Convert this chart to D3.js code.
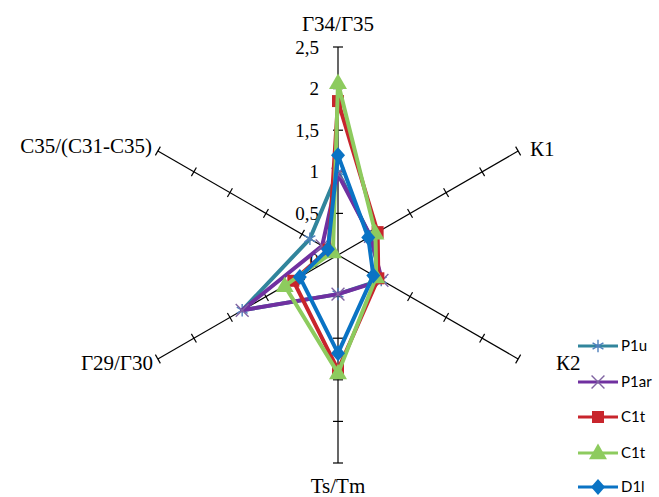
<!DOCTYPE html>
<html><head><meta charset="utf-8">
<script src="https://cdn.jsdelivr.net/npm/d3@7"></script>
<style>body{margin:0;background:#fff}svg{display:block}</style>
</head><body>
<svg id="c" width="659" height="497"></svg>
<script>
const axes = ["Г34/Г35", "К1", "К2", "Ts/Tm", "Г29/Г30", "C35/(C31-C35)"];
const tickValues = [0, 0.5, 1, 1.5, 2, 2.5];
const tickLabels = ["0", "0,5", "1", "1,5", "2", "2,5"];
const seriesNames = ["P1u", "P1ar", "C1t", "C1t", "D1l"];
const P1u  = [1.0, 0.45, 0.6, 0.47, 1.33, 0.39];
const P1ar = [0.97, 0.45, 0.61, 0.47, 1.33, 0.22];
const C1tA = [1.85, 0.55, 0.56, 1.38, 0.62, 0.13];
const C1tB = [2.07, 0.52, 0.53, 1.42, 0.74, 0.07];
const D1l  = [1.2, 0.42, 0.49, 1.18, 0.53, 0.14];

const svg = d3.select("#c");
const cx = 338, cy = 255;
const r = d3.scaleLinear().domain([0, 2.5]).range([0, 208]);
const ang = i => Math.PI/2 - i * Math.PI/3;
const pt = (i, v) => [cx + Math.cos(ang(i)) * r(v), cy - Math.sin(ang(i)) * r(v)];
const serif = "Liberation Serif, Times New Roman, serif";

// axes
const ag = svg.append("g");
axes.forEach((a, i) => {
  const e = pt(i, 2.5);
  ag.append("line").attr("x1", cx).attr("y1", cy).attr("x2", e[0]).attr("y2", e[1])
    .attr("stroke", "#000").attr("stroke-width", 1.2);
  const px = Math.cos(ang(i) + Math.PI/2), py = -Math.sin(ang(i) + Math.PI/2);
  tickValues.slice(1).forEach(t => {
    const p = pt(i, t);
    ag.append("line").attr("x1", p[0] - px*5).attr("y1", p[1] - py*5)
      .attr("x2", p[0] + px*5).attr("y2", p[1] + py*5)
      .attr("stroke", "#000").attr("stroke-width", 1.2);
  });
});
// tick labels on top axis
tickValues.forEach((t, k) => {
  const p = pt(0, t);
  svg.append("text").attr("x", cx - 19).attr("y", p[1] + (k === 0 ? 5 : 0)).attr("dy", "0.35em")
    .attr("text-anchor", "end").attr("font-family", serif)
    .attr("font-size", 19).text(tickLabels[k]);
});
// axis labels
const labelPos = [
  {x: 338, y: 24, a: "middle"},
  {x: 530, y: 149, a: "start"},
  {x: 556, y: 363, a: "start"},
  {x: 338, y: 486, a: "middle"},
  {x: 153, y: 363, a: "end"},
  {x: 152, y: 146, a: "end"}
];
axes.forEach((a, i) => {
  svg.append("text").attr("x", labelPos[i].x).attr("y", labelPos[i].y).attr("dy", "0.35em")
    .attr("text-anchor", labelPos[i].a).attr("font-family", serif)
    .attr("font-size", 21).text(a);
});

const series = [
  {name: seriesNames[0], vals: P1u,  color: "#31859C", mcolor: "#4F81BD", m: "star"},
  {name: seriesNames[1], vals: P1ar, color: "#7030A0", mcolor: "#8064A2", m: "x"},
  {name: seriesNames[2], vals: C1tA, color: "#C8252C", mcolor: "#C8252C", m: "square"},
  {name: seriesNames[3], vals: C1tB, color: "#8DCB5E", mcolor: "#8DCB5E", m: "triangle"},
  {name: seriesNames[4], vals: D1l,  color: "#0A73C4", mcolor: "#0A73C4", m: "diamond"}
];
function marker(g, type, x, y, col) {
  if (type === "star") {
    const s = d3.symbol().type(d3.symbolAsterisk).size(110);
    g.append("path").attr("d", s()).attr("transform", `translate(${x},${y})`)
      .attr("fill", "none").attr("stroke", col).attr("stroke-width", 1.4);
  } else if (type === "x") {
    const s = d3.symbol().type(d3.symbolX).size(110);
    g.append("path").attr("d", s()).attr("transform", `translate(${x},${y})`)
      .attr("fill", "none").attr("stroke", col).attr("stroke-width", 1.4);
  } else if (type === "square") {
    g.append("rect").attr("x", x - 6).attr("y", y - 6).attr("width", 12).attr("height", 12).attr("fill", col);
  } else if (type === "triangle") {
    g.append("path").attr("d", d3.symbol().type(d3.symbolTriangle).size(140)()).attr("transform", `translate(${x},${y+1})`).attr("fill", col);
  } else if (type === "diamond") {
    g.append("path").attr("d", `M0,-8L7,0L0,8L-7,0Z`).attr("transform", `translate(${x},${y})`).attr("fill", col);
  }
}
const line = d3.line().curve(d3.curveLinearClosed);
series.forEach(s => {
  const g = svg.append("g");
  const pts = s.vals.map((v, i) => pt(i, v));
  g.append("path").attr("d", line(pts)).attr("fill", "none").attr("stroke", s.color)
    .attr("stroke-width", 4).attr("stroke-linejoin", "round");
  pts.forEach(p => marker(g, s.m, p[0], p[1], s.mcolor));
});

// legend
const ly = [346, 382, 417, 453, 487];
series.forEach((s, k) => {
  const g = svg.append("g");
  g.append("line").attr("x1", 578).attr("x2", 618).attr("y1", ly[k]).attr("y2", ly[k])
    .attr("stroke", s.color).attr("stroke-width", 3);
  marker(g, s.m, 598, ly[k], s.mcolor);
  g.append("text").attr("x", 621).attr("y", ly[k]).attr("dy", "0.35em")
    .attr("font-family", "Lato, Open Sans, sans-serif").attr("font-size", 15).text(s.name);
});
</script>
</body></html>
